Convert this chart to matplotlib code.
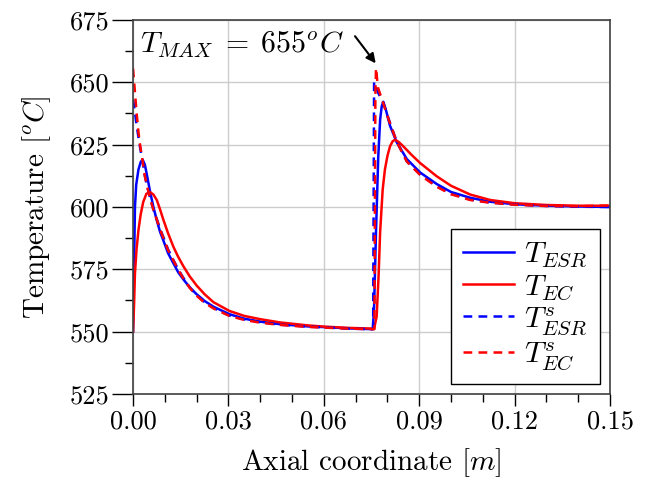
import matplotlib
matplotlib.use("Agg")
import matplotlib.pyplot as plt
from matplotlib.ticker import MultipleLocator, FormatStrFormatter

plt.rcParams['font.family'] = 'serif'
plt.rcParams['font.serif'] = ['cmr10']
plt.rcParams['mathtext.fontset'] = 'cm'
plt.rcParams['axes.formatter.use_mathtext'] = True

# values
x_esr = [0, 0.0003, 0.0006, 0.001, 0.0017, 0.0024, 0.003, 0.0037, 0.0043, 0.0053,
         0.0064, 0.0075, 0.0085, 0.0095, 0.011, 0.0127, 0.0142, 0.0158, 0.0178, 0.02,
         0.0225, 0.0253, 0.0303, 0.035, 0.04, 0.0462, 0.055, 0.0604, 0.068, 0.0751,
         0.0754, 0.0758, 0.0764, 0.0771, 0.0777, 0.0782, 0.0787, 0.0795, 0.0808, 0.0829,
         0.0861, 0.0903, 0.0955, 0.1, 0.106, 0.1123, 0.1201, 0.13, 0.14, 0.15]
t_esr = [550, 575, 600, 609, 615, 618, 619, 617, 613.3, 606.5,
         600, 594.5, 590, 586.7, 581.5, 577.4, 573.8, 571, 567.8, 565,
         562.3, 560, 557, 555.2, 554, 553, 552.1, 551.8, 551.3, 551,
         551, 560, 590, 620, 635, 640.4, 642.2, 639, 632.6, 626,
         619.2, 613.8, 609.2, 606, 603.7, 602.1, 601.1, 600.5, 600.2, 600]

x_ec = [0, 0.0003, 0.0006, 0.0011, 0.0017, 0.0024, 0.0032, 0.0042, 0.0053, 0.0064,
        0.0075, 0.0085, 0.0095, 0.011, 0.0127, 0.0142, 0.0158, 0.0178, 0.02, 0.0225,
        0.0253, 0.0303, 0.035, 0.04, 0.0462, 0.055, 0.0604, 0.068, 0.0758, 0.0766,
        0.0772, 0.0777, 0.0785, 0.0792, 0.08, 0.0808, 0.0816, 0.0824, 0.0836, 0.085,
        0.0875, 0.0903, 0.0955, 0.1, 0.106, 0.1123, 0.1201, 0.13, 0.14, 0.15]
t_ec = [550, 560, 573.4, 583, 590.7, 597, 602, 605.3, 606, 605,
        602.7, 599, 595, 589.5, 584, 580, 576.3, 572.2, 568.5, 565,
        561.8, 558.3, 556.3, 555, 553.7, 552.5, 552, 551.5, 551.2, 556,
        572, 590, 607, 615, 620.5, 624.3, 626.3, 627, 626, 624.3,
        621, 617.6, 612.3, 608.5, 605, 602.8, 601.5, 600.8, 600.5, 600.5]

x_esr_s = [0, 0.0006, 0.0011, 0.0017, 0.0022, 0.003, 0.0037, 0.0045, 0.0053, 0.0064,
           0.0075, 0.0085, 0.0095, 0.011, 0.0127, 0.0142, 0.0158, 0.0178, 0.02, 0.0225,
           0.0253, 0.0303, 0.035, 0.04, 0.0462, 0.055, 0.0604, 0.068, 0.0751, 0.0755,
           0.0758, 0.0762, 0.077, 0.0787, 0.0808, 0.0829, 0.0861, 0.0903, 0.0955, 0.1,
           0.106, 0.1123, 0.1201, 0.13, 0.14, 0.15]
t_esr_s = [643, 638, 633, 628, 624, 618, 612.5, 608, 604, 599,
           595, 591.3, 588, 583, 578.7, 575, 571.6, 567.8, 564.6, 561.8,
           559.5, 556.5, 554.9, 553.8, 552.8, 552, 551.7, 551.2, 551, 551,
           650, 649, 646, 641.7, 633.7, 626.3, 618.3, 613, 608.3, 605.3,
           603, 601.8, 601, 600.4, 600.1, 600]

x_ec_s = [0, 0.0006, 0.0011, 0.0017, 0.0022, 0.003, 0.0037, 0.0045, 0.0053, 0.0064,
          0.0075, 0.0085, 0.0095, 0.011, 0.0127, 0.0142, 0.0158, 0.0178, 0.02, 0.0225,
          0.0253, 0.0303, 0.035, 0.04, 0.0462, 0.055, 0.0604, 0.068, 0.0751, 0.0759,
          0.0762, 0.0764, 0.077, 0.0787, 0.0808, 0.0829, 0.0861, 0.0903, 0.0955, 0.1,
          0.106, 0.1123, 0.1201, 0.13, 0.14, 0.15]
t_ec_s = [655.5, 646, 638, 630, 625, 618.5, 612.5, 607.8, 603.8, 598.8,
          594.8, 591, 587.7, 582.7, 578.5, 574.8, 571.4, 567.6, 564.4, 561.6,
          559.3, 556.3, 554.7, 553.6, 552.7, 551.9, 551.6, 551.2, 551, 551,
          645, 655.7, 648, 641.5, 633.5, 626.2, 618.2, 612.8, 608.1, 605.1,
          602.8, 601.7, 600.9, 600.4, 600.3, 600.6]

fig = plt.figure(figsize=(6.49, 4.87), dpi=100)
ax = fig.add_axes([0.205, 0.191, 0.735, 0.768])

ax.plot(x_esr, t_esr, color='blue', lw=1.8, label=r'$T_{ESR}$')
ax.plot(x_ec, t_ec, color='red', lw=1.8, label=r'$T_{EC}$')
ax.plot(x_esr_s, t_esr_s, color='blue', lw=1.8, ls=(0, (3.5, 2.5)), label=r'$T_{ESR}^s$')
ax.plot(x_ec_s, t_ec_s, color='red', lw=1.8, ls=(0, (3.5, 2.5)), label=r'$T_{EC}^s$')

ax.set_xlim(0, 0.15)
ax.set_ylim(525, 675)
ax.xaxis.set_major_locator(MultipleLocator(0.03))
ax.xaxis.set_minor_locator(MultipleLocator(0.01))
ax.yaxis.set_major_locator(MultipleLocator(25))
ax.yaxis.set_minor_locator(MultipleLocator(12.5))
ax.xaxis.set_major_formatter(FormatStrFormatter('%.2f'))
ax.yaxis.set_major_formatter(FormatStrFormatter('%d'))

ax.grid(True, which='major', color='#cccccc', lw=1)
ax.set_axisbelow(True)
for s in ax.spines.values():
    s.set_color('0.25')
    s.set_linewidth(1.2)

ax.tick_params(axis='x', which='major', direction='out', length=8.5, width=1, labelsize=19, pad=3)
ax.tick_params(axis='x', which='minor', direction='out', length=5.5, width=1)
ax.tick_params(axis='y', which='major', direction='out', length=15, width=1, labelsize=19, pad=2)
ax.tick_params(axis='y', which='minor', direction='out', length=5.5, width=1)

ax.set_xlabel(r'Axial coordinate [$m$]', fontsize=21, labelpad=9)
ax.set_ylabel(r'Temperature [$^oC$]', fontsize=21, labelpad=12)

ax.text(0.0022, 665, r'$T_{MAX} \;=\; 655^oC$', fontsize=21.5, va='center', ha='left')
ax.annotate('', xy=(0.0763, 657.6), xytext=(0.0698, 668.5),
            arrowprops=dict(arrowstyle='-|>', color='black', lw=1.5,
                            shrinkA=0, shrinkB=0, mutation_scale=14))

leg = ax.legend(loc='lower right', fontsize=21.5, frameon=True, fancybox=False,
                edgecolor='black', framealpha=1, handlelength=1.7,
                handletextpad=0.35, labelspacing=0.12, borderaxespad=0.35)
leg.get_frame().set_linewidth(1.0)

fig.savefig('out.png', dpi=100)
